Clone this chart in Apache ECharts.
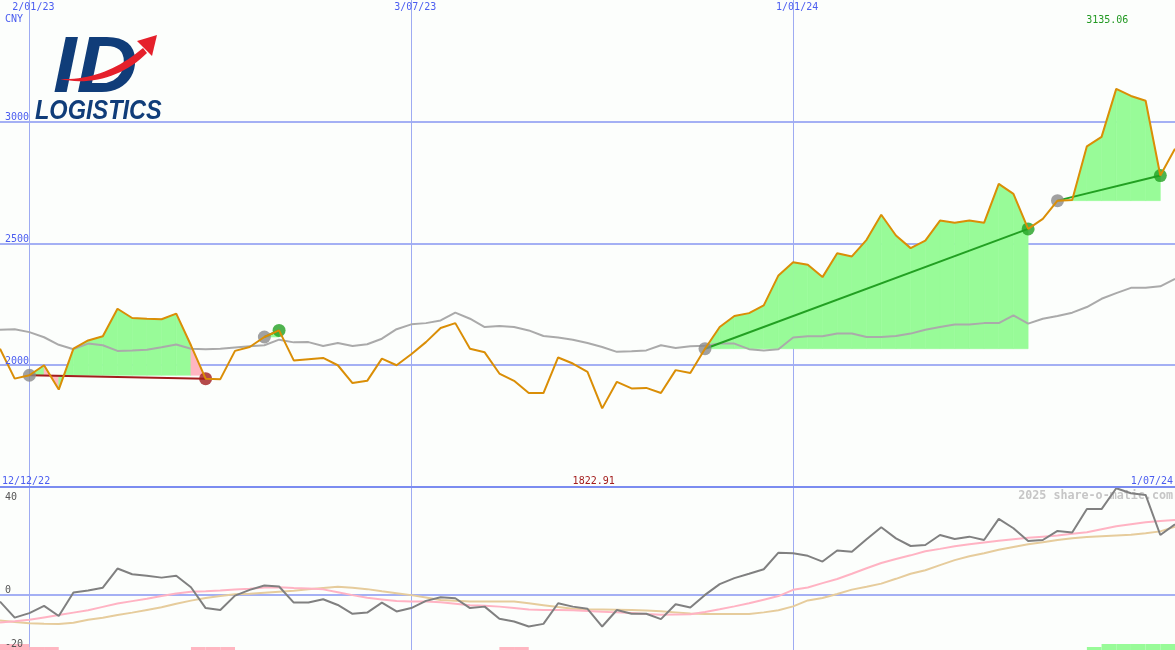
<!DOCTYPE html>
<html>
<head>
<meta charset="utf-8">
<script src="https://cdn.jsdelivr.net/npm/echarts@6.0.0/dist/echarts.min.js"></script>
<style>
html,body{margin:0;padding:0;background:#fcfefc;}
#chart{width:1175px;height:650px;}
</style>
</head>
<body>
<div id="chart"></div>
<script>
// ---- data (weekly, index 0 = 19/12/22, index 80 = 1/07/24) ----
const price = [2068,1945,1959,2000,1900,2068,2102,2119,2232,2194,
  2191,2189,2212,2082,1945,1943,2059,2075,2116,2143,
  2020,2025,2030,2000,1927,1936,2027,2000,2045,2095,
  2153,2173,2068,2053,1966,1936,1886,1886,2032,2007,
  1973,1822.91,1932,1905,1907,1886,1980,1968,2068,2157,
  2202,2214,2246,2369,2423,2413,2362,2460,2447,2515,
  2618,2533,2481,2512,2594,2585,2594,2585,2745,2704,
  2560,2601,2676,2679,2899,2938,3135.06,3106,3086,2779,
  2889];
const movingAvg = [2146,2148,2136,2115,2084,2066,2089,2082,2059,2061,
  2064,2074,2085,2068,2066,2068,2073,2078,2082,2105,
  2094,2095,2079,2091,2079,2086,2109,2148,2168,2173,
  2184,2216,2191,2157,2161,2157,2143,2120,2114,2105,
  2091,2075,2055,2057,2061,2082,2071,2078,2080,2089,
  2089,2066,2061,2066,2114,2119,2119,2130,2130,2116,
  2116,2120,2130,2146,2157,2167,2167,2173,2173,2205,
  2171,2191,2202,2216,2239,2273,2296,2318,2318,2324,
  2355];
const oscillator = [-2.8,-9.5,-7.6,-4.6,-8.8,1.0,1.8,3.0,11.0,8.6,
  8.0,7.2,8.0,3.2,-5.5,-6.3,-0.3,2.1,3.9,3.5,
  -3.2,-3.2,-1.8,-4.2,-7.9,-7.4,-3.2,-6.9,-5.5,-2.5,
  -1.0,-1.4,-5.5,-4.9,-10.0,-11.1,-13.2,-12.1,-3.5,-4.9,
  -5.8,-13.2,-6.3,-7.9,-7.9,-10.1,-3.9,-5.3,0.0,4.5,
  7.0,8.8,10.7,17.6,17.4,16.3,13.9,18.5,18.0,23.2,
  28.2,23.6,20.4,20.8,25.0,23.3,24.3,22.9,31.7,27.8,
  22.5,22.9,26.7,26.0,35.8,35.8,44.5,42.4,41.7,25.0,
  29.5];
const signalPink = [-11.5,-11.0,-10.4,-9.4,-8.4,-7.4,-6.4,-5.0,-3.6,-2.6,
  -1.6,-0.5,0.6,1.3,1.5,1.8,2.2,2.6,3.1,3.2,
  2.9,2.7,2.3,1.1,-0.1,-1.2,-1.9,-2.6,-2.8,-2.8,
  -3.1,-3.7,-4.3,-4.5,-4.9,-5.5,-6.1,-6.3,-6.3,-6.4,
  -6.7,-7.0,-7.3,-7.6,-8.0,-8.3,-8.2,-8.1,-7.1,-6.0,
  -4.8,-3.5,-2.0,-0.5,2.1,3.1,4.9,6.6,8.8,11.1,
  13.3,15.0,16.5,18.2,19.2,20.3,21.1,21.9,22.6,23.2,
  23.8,24.3,24.8,25.5,26.1,27.4,28.6,29.5,30.3,30.8,
  31.3];
const signalTan = [-10.7,-11.3,-11.8,-12.0,-12.1,-11.6,-10.4,-9.5,-8.4,-7.4,
  -6.3,-5.2,-3.7,-2.4,-1.3,-0.5,0.3,0.5,0.9,1.3,
  1.7,2.3,2.9,3.4,3.0,2.4,1.5,0.7,-0.1,-1.1,
  -2.1,-2.5,-2.8,-2.8,-2.8,-2.8,-3.5,-4.3,-5.1,-5.8,
  -6.0,-6.1,-6.2,-6.3,-6.5,-6.8,-7.3,-7.8,-8.0,-8.0,
  -8.0,-8.0,-7.3,-6.4,-4.8,-2.3,-1.3,0.4,2.2,3.4,
  4.7,6.7,8.8,10.3,12.4,14.5,16.1,17.4,18.8,20.0,
  21.1,22.0,22.9,23.6,24.2,24.5,24.8,25.1,25.7,26.5,
  28.5];
// signal strip level per weekly segment (negative = pink, positive = green)
const signalLevel = [-2,-2,-1,-1,0,0,0,0,0,0,
  0,0,0,-1,-1,-1,0,0,0,0,
  0,0,0,0,0,0,0,0,0,0,
  0,0,0,0,-1,-1,0,0,0,0,
  0,0,0,0,0,0,0,0,0,0,
  0,0,0,0,0,0,0,0,0,0,
  0,0,0,0,0,0,0,0,0,0,
  0,0,0,0,1,2,2,2,2,2];
const tradeEntry = [2, 18, 48, 72];
const tradeExit = [14, 19, 70, 79];
const priceTicks = [2000, 2500, 3000];
const oscTicks = [40, 0, -20];
const dateTickIdx = [2, 28, 54];
const dateTickLabels = ['2/01/23', '3/07/23', '1/01/24'];
const startLabel = '12/12/22';
const endLabel = '1/07/24';
const currencyLabel = 'CNY';
const watermark = '2025 share-o-matic.com';

// ---- styling ----
const GRID_H = '#a4b0f4', GRID_V = '#9eabf2', SEP = '#7b8cf0';
const BLUE_TXT = '#4b5df0';
const FILL_G = '#98fb98', FILL_P = '#ffb6c1';
const MONO = '"DejaVu Sans Mono", monospace';
const X_MAX = price.length - 1;
const P_MIN = 1500, P_MAX = 3500, O_MIN = -23, O_MAX = 44.6;

const chart = echarts.init(document.getElementById('chart'));

const fillData = [];
tradeEntry.forEach((e, t) => {
  const base = price[e];
  for (let i = e; i < tradeExit[t]; i++) {
    fillData.push([i, price[i], i + 1, price[i + 1], base, price[i + 1] >= base ? 1 : 0]);
  }
});
const trendSeries = tradeEntry.map((e, t) => ({
  type: 'line', xAxisIndex: 0, yAxisIndex: 0, z: 4, silent: true,
  symbol: 'none', emphasis: {disabled: true},
  data: [[e, price[e]], [tradeExit[t], price[tradeExit[t]]]],
  lineStyle: {color: price[tradeExit[t]] >= price[e] ? '#22a022' : '#a31d1d', width: 2}
}));
const circleData = [];
tradeEntry.forEach((e, t) => {
  const x = tradeExit[t];
  circleData.push({value: [e, price[e]], itemStyle: {color: '#8a8a8a'}});
  circleData.push({value: [x, price[x]], itemStyle: {color: price[x] >= price[e] ? '#22a022' : '#a31d1d'}});
});
const idx = arr => arr.map((v, i) => [i, v]);
const lineS = (data, color, z, grid) => ({
  type: 'line', xAxisIndex: grid, yAxisIndex: grid, z: z, silent: true,
  symbol: 'none', emphasis: {disabled: true}, data: data,
  lineStyle: {color: color, width: 2}
});
// crisp vertical grid lines (1px rects snapped to whole pixels)
const vGrid = grid => ({
  type: 'custom', xAxisIndex: grid, yAxisIndex: grid, z: 1, silent: true,
  data: dateTickIdx.map(d => [d, 0]), encode: {x: 0},
  renderItem: (params, api) => {
    const cs = params.coordSys;
    const x = Math.round(api.coord([api.value(0), grid ? 0 : P_MIN])[0]);
    return {type: 'rect', shape: {x: x, y: cs.y, width: 1, height: cs.height},
      style: {fill: GRID_V}};
  }
});
// horizontal grid lines (2px, snapped)
const hGrid = (grid, values) => ({
  type: 'custom', xAxisIndex: grid, yAxisIndex: grid, z: 1, silent: true,
  data: values.map(v => [0, v]), encode: {y: 1},
  renderItem: (params, api) => {
    const cs = params.coordSys;
    const y = Math.round(api.coord([0, api.value(1)])[1]);
    return {type: 'rect', shape: {x: cs.x, y: y - 1, width: cs.width, height: 2},
      style: {fill: GRID_H}};
  }
});

const option = {
  animation: false,
  backgroundColor: '#fcfefc',
  tooltip: {show: false},
  grid: [
    {left: 0, right: 0, top: 0, height: 487, outerBoundsMode: 'none'},
    {left: 0, right: 0, top: 488, bottom: 0, outerBoundsMode: 'none'}
  ],
  xAxis: [
    {gridIndex: 0, type: 'value', min: 0, max: X_MAX, show: false},
    {gridIndex: 1, type: 'value', min: 0, max: X_MAX, show: false}
  ],
  yAxis: [
    {gridIndex: 0, type: 'value', min: P_MIN, max: P_MAX, show: false},
    {gridIndex: 1, type: 'value', min: O_MIN, max: O_MAX, show: false}
  ],
  series: [
    hGrid(0, priceTicks),
    vGrid(0),
    hGrid(1, [0]),
    vGrid(1),
    { type: 'custom', xAxisIndex: 0, yAxisIndex: 0, z: 2, silent: true,
      data: fillData, encode: {x: [0, 2], y: [1, 3, 4]},
      renderItem: (params, api) => {
        const a = api.coord([api.value(0), api.value(1)]);
        const b = api.coord([api.value(2), api.value(3)]);
        const c = api.coord([api.value(2), api.value(4)]);
        const d = api.coord([api.value(0), api.value(4)]);
        const col = api.value(5) ? FILL_G : FILL_P;
        return {type: 'polygon', shape: {points: [a, b, c, d]},
          style: {fill: col, stroke: col, lineWidth: 0.6}};
      } },
    lineS(idx(movingAvg), '#aaaaaa', 3, 0),
    ...trendSeries,
    { type: 'scatter', xAxisIndex: 0, yAxisIndex: 0, z: 5, silent: true,
      symbol: 'circle', symbolSize: 13, data: circleData, emphasis: {disabled: true} },
    lineS(idx(price), '#da8e06', 6, 0),
    lineS(idx(signalTan), '#e6cc9c', 3, 1),
    lineS(idx(signalPink), '#ffb3c3', 3, 1),
    lineS(idx(oscillator), '#808080', 4, 1),
    { type: 'custom', xAxisIndex: 1, yAxisIndex: 1, z: 2, silent: true,
      data: idx(signalLevel), encode: {x: 0, y: 1},
      renderItem: (params, api) => {
        const i = api.value(0), lv = api.value(1);
        if (!lv) return {type: 'group', children: []};
        const a = api.coord([i, O_MIN]);
        const b = api.coord([i + 1, O_MIN]);
        const h = Math.abs(lv) * 3;
        return {type: 'rect', shape: {x: a[0], y: a[1] - h, width: b[0] - a[0], height: h},
          style: {fill: lv < 0 ? FILL_P : FILL_G}};
      } }
  ]
};
chart.setOption(option);

// ---- text labels and decorations placed through the chart's scales ----
const P0 = (x, y) => chart.convertToPixel({gridIndex: 0}, [x, y]);
const P1 = (x, y) => chart.convertToPixel({gridIndex: 1}, [x, y]);
const txt = (x, y, text, fill, align, va, font) => ({
  type: 'text', x: x, y: y, z: 50, silent: true,
  style: {text: text, fill: fill, align: align, verticalAlign: va, font: font || ('10px ' + MONO)}
});
const g = [];
g.push({type: 'rect', z: 40, silent: true, shape: {x: 0, y: 486, width: 1175, height: 2}, style: {fill: SEP}});
priceTicks.forEach(v => { const p = P0(0, v); g.push(txt(5, p[1] + 1, String(v), BLUE_TXT, 'left', 'bottom')); });
dateTickIdx.forEach((d, k) => { const p = P0(d, P_MAX); g.push(txt(p[0] + 4, 2, dateTickLabels[k], BLUE_TXT, 'center', 'top')); });
g.push(txt(5, 14, currencyLabel, BLUE_TXT, 'left', 'top'));
let maxI = 0, minI = 0;
price.forEach((v, i) => { if (v > price[maxI]) maxI = i; if (v < price[minI]) minI = i; });
g.push(txt(P0(maxI, P_MAX)[0] - 9, 15, price[maxI].toFixed(2), '#229922', 'center', 'top'));
g.push(txt(2, 486, startLabel, BLUE_TXT, 'left', 'bottom'));
g.push(txt(P1(minI, 0)[0] - 8.5, 486, price[minI].toFixed(2), '#a31d1d', 'center', 'bottom'));
g.push(txt(1173, 486, endLabel, BLUE_TXT, 'right', 'bottom'));
oscTicks.forEach((v, k) => {
  const py = P1(0, v)[1];
  const y = k === oscTicks.length - 1 ? 649 : (k === 0 ? py + 3 : py + 1);
  g.push(txt(5, y, String(v), '#555555', 'left', 'bottom'));
});
g.push({type: 'text', x: 1173, y: 490, z: 0, silent: true,
  style: {text: watermark, fill: '#c6c6c6', align: 'right', verticalAlign: 'top', font: 'bold 11.7px ' + MONO}});
// logo
g.push({type: 'text', x: 53, y: 31, z: 60, silent: true, scaleX: 1.07,
  style: {text: 'ID', fill: '#103d79', align: 'left', verticalAlign: 'top', font: 'italic bold 79px "Liberation Sans", Arial, sans-serif'}});
g.push({type: 'text', x: 35, y: 97, z: 60, silent: true, scaleX: 0.84,
  style: {text: 'LOGISTICS', fill: '#103d79', align: 'left', verticalAlign: 'top', font: 'italic bold 28px "Liberation Sans", Arial, sans-serif'}});
const bez = (p0, p1, p2, p3, n) => {
  const pts = [];
  for (let k = 0; k <= n; k++) {
    const t = k / n, u = 1 - t;
    pts.push([u*u*u*p0[0] + 3*u*u*t*p1[0] + 3*u*t*t*p2[0] + t*t*t*p3[0],
              u*u*u*p0[1] + 3*u*u*t*p1[1] + 3*u*t*t*p2[1] + t*t*t*p3[1]]);
  }
  return pts;
};
const swoosh = bez([60, 79], [92, 86], [124, 76], [147, 53], 20)
  .concat(bez([143, 48], [118, 69], [92, 80], [60, 79], 20));
g.push({type: 'polygon', z: 61, silent: true, shape: {points: swoosh}, style: {fill: '#e5202b'}});
g.push({type: 'polygon', z: 61, silent: true,
  shape: {points: [[137, 41], [157, 35], [152, 56]]}, style: {fill: '#e5202b'}});
chart.setOption({graphic: g});
</script>
</body>
</html>
